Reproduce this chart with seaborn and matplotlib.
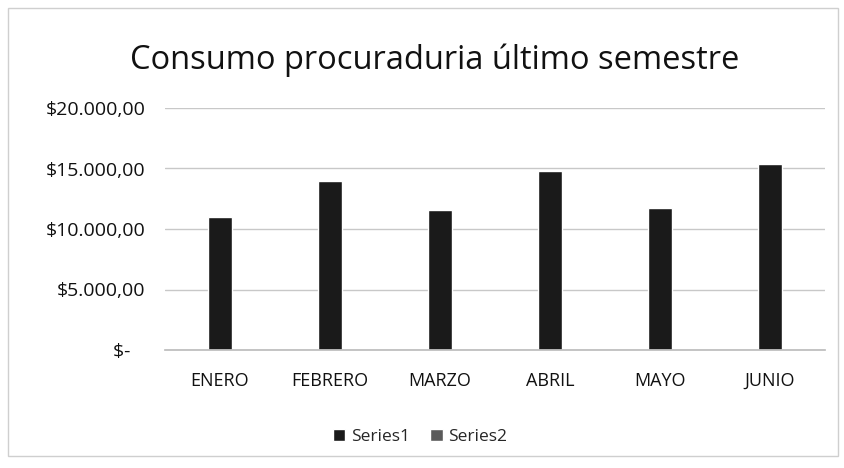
import pandas as pd
import matplotlib.pyplot as plt
import seaborn as sns
from matplotlib.patches import Rectangle
from matplotlib.ticker import FixedLocator, FixedFormatter

meses = ['ENERO', 'FEBRERO', 'MARZO', 'ABRIL', 'MAYO', 'JUNIO']
series1 = [11000, 14000, 11600, 14800, 11700, 15400]
series2 = [0, 0, 0, 0, 0, 0]
y_ticks = [0, 5000, 10000, 15000, 20000]
y_labels = ['$-   ', '$5.000,00', '$10.000,00', '$15.000,00', '$20.000,00']

df = pd.DataFrame({
    'mes': meses * 2,
    'valor': series1 + series2,
    'serie': ['Series1'] * 6 + ['Series2'] * 6,
})

sns.set_theme(style='white')
plt.rcParams['font.family'] = ['Open Sans', 'DejaVu Sans']

fig = plt.figure(figsize=(8.44, 4.68), dpi=100)
ax = fig.add_axes([165 / 844, 1 - 350 / 468, 660 / 844, 242 / 468])

sns.barplot(
    data=df, x='mes', y='valor', hue='serie',
    palette=['#1a1a1a', '#5a5a5a'], dodge=False, width=0.21,
    saturation=1, ax=ax, legend=True,
)

ax.set_ylim(0, 20000)
ax.yaxis.set_major_locator(FixedLocator(y_ticks))
ax.yaxis.set_major_formatter(FixedFormatter(y_labels))
ax.grid(axis='y', color='#c8c8c8', linewidth=1)
ax.set_axisbelow(True)
for s in ['top', 'right', 'left']:
    ax.spines[s].set_visible(False)
ax.spines['bottom'].set_color('#bdbdbd')
ax.set_xlabel('')
ax.set_ylabel('')
ax.tick_params(axis='both', length=0, colors='#111111')
ax.tick_params(axis='x', pad=16, labelsize=13)
ax.tick_params(axis='y', pad=14, labelsize=14)

ax.legend(loc='center', bbox_to_anchor=(420 / 844, 1 - 437 / 468),
          bbox_transform=fig.transFigure, ncol=2,
          frameon=False, fontsize=12.5, handlelength=0.7, handleheight=0.7,
          columnspacing=1.2, handletextpad=0.3)

fig.text(435 / 844, 1 - 60 / 468, 'Consumo procuraduria último semestre',
         ha='center', va='center', fontsize=23.5, color='#111111')

fig.patches.append(Rectangle((8 / 844, 12 / 468), 830 / 844, 448 / 468,
                             transform=fig.transFigure, fill=False,
                             edgecolor='#cfcfcf', linewidth=1))

fig.savefig('out.png', dpi=100)
